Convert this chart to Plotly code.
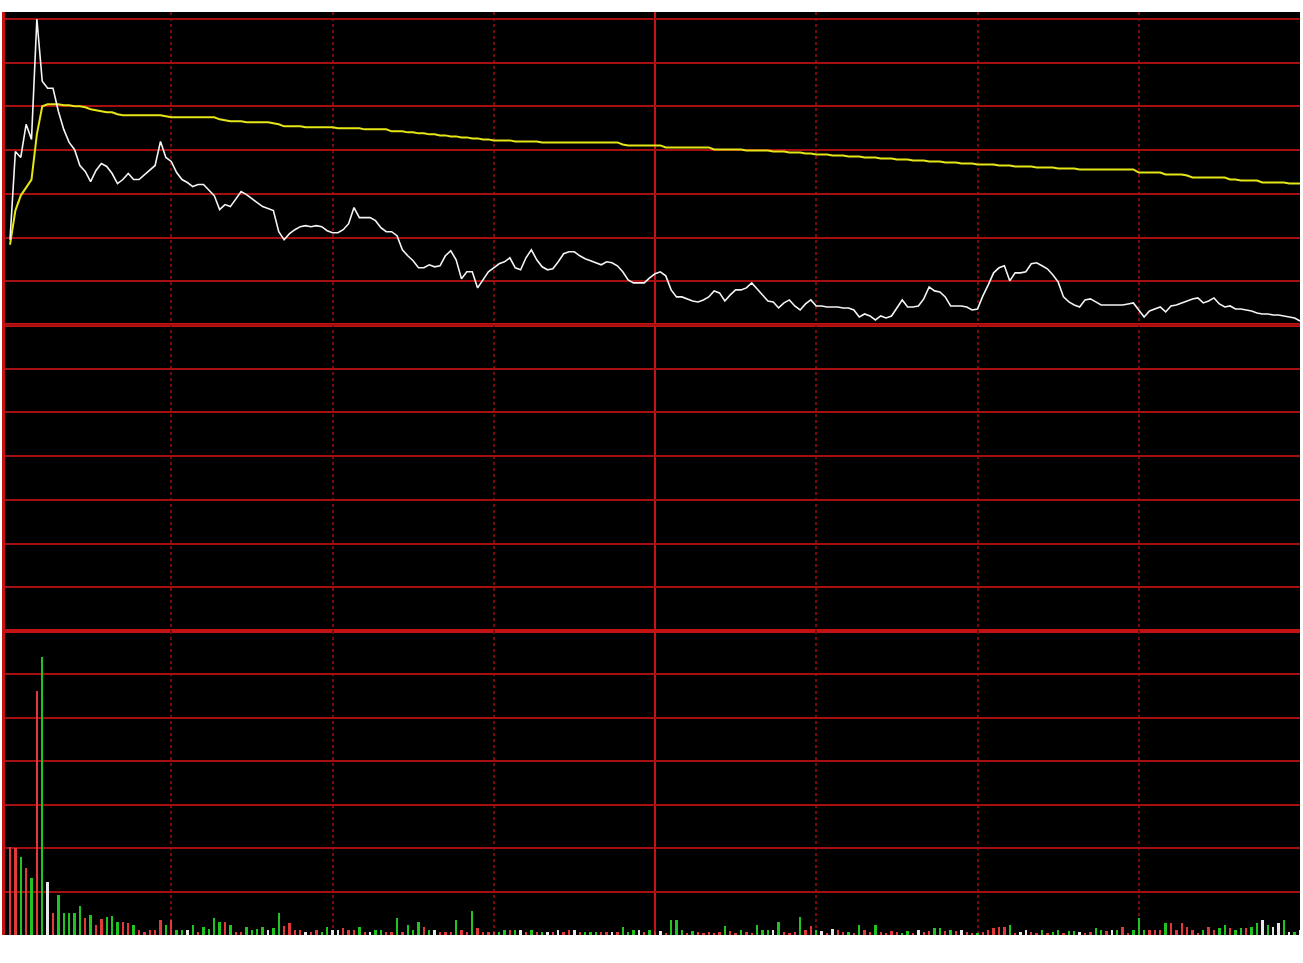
import plotly.graph_objects as go

# ---------------- data ----------------
PREV_CLOSE = 10.00
MINUTES = list(range(241))

PRICE = [
    10.170, 10.346, 10.334, 10.400, 10.370, 10.610, 10.486, 10.472, 10.472, 10.426,
    10.390, 10.364, 10.350, 10.318, 10.306, 10.286, 10.308, 10.322, 10.316, 10.302,
    10.282, 10.290, 10.302, 10.290, 10.290, 10.300, 10.308, 10.318, 10.366, 10.334,
    10.326, 10.304, 10.290, 10.284, 10.276, 10.280, 10.280, 10.270, 10.258, 10.230,
    10.240, 10.236, 10.250, 10.266, 10.260, 10.252, 10.244, 10.236, 10.232, 10.228,
    10.186, 10.170, 10.182, 10.190, 10.196, 10.198, 10.196, 10.198, 10.196, 10.188,
    10.184, 10.184, 10.190, 10.202, 10.234, 10.214, 10.214, 10.214, 10.208, 10.194,
    10.186, 10.186, 10.178, 10.150, 10.138, 10.128, 10.114, 10.114, 10.120, 10.116,
    10.118, 10.138, 10.148, 10.130, 10.092, 10.106, 10.106, 10.074, 10.090, 10.106,
    10.114, 10.122, 10.126, 10.134, 10.114, 10.110, 10.134, 10.150, 10.130, 10.116,
    10.110, 10.112, 10.126, 10.142, 10.146, 10.146, 10.138, 10.132, 10.128, 10.124,
    10.120, 10.126, 10.124, 10.118, 10.106, 10.090, 10.084, 10.084, 10.084, 10.094,
    10.102, 10.106, 10.098, 10.070, 10.056, 10.056, 10.052, 10.048, 10.046, 10.050,
    10.056, 10.068, 10.064, 10.048, 10.060, 10.070, 10.070, 10.074, 10.084, 10.072,
    10.058, 10.048, 10.046, 10.034, 10.044, 10.050, 10.038, 10.030, 10.042, 10.050,
    10.038, 10.038, 10.036, 10.036, 10.036, 10.034, 10.034, 10.030, 10.016, 10.022,
    10.018, 10.010, 10.018, 10.014, 10.018, 10.034, 10.050, 10.036, 10.036, 10.038,
    10.052, 10.076, 10.068, 10.066, 10.056, 10.038, 10.038, 10.038, 10.036, 10.030,
    10.032, 10.058, 10.080, 10.104, 10.114, 10.118, 10.088, 10.104, 10.104, 10.106,
    10.122, 10.124, 10.118, 10.112, 10.100, 10.086, 10.056, 10.046, 10.040, 10.036,
    10.050, 10.052, 10.046, 10.040, 10.040, 10.040, 10.040, 10.040, 10.042, 10.044,
    10.030, 10.016, 10.028, 10.032, 10.036, 10.026, 10.038, 10.040, 10.044, 10.048,
    10.052, 10.054, 10.044, 10.048, 10.054, 10.042, 10.036, 10.038, 10.032, 10.032,
    10.030, 10.028, 10.024, 10.022, 10.022, 10.020, 10.020, 10.018, 10.016, 10.014,
    10.008,
]

AVG_PRICE = [
    10.160, 10.228, 10.258, 10.274, 10.290, 10.380, 10.436, 10.440, 10.440, 10.440,
    10.438, 10.438, 10.436, 10.436, 10.434, 10.430, 10.428, 10.426, 10.424, 10.424,
    10.420, 10.418, 10.418, 10.418, 10.418, 10.418, 10.418, 10.418, 10.418, 10.416,
    10.414, 10.414, 10.414, 10.414, 10.414, 10.414, 10.414, 10.414, 10.414, 10.410,
    10.408, 10.406, 10.406, 10.406, 10.404, 10.404, 10.404, 10.404, 10.404, 10.402,
    10.400, 10.396, 10.396, 10.396, 10.396, 10.394, 10.394, 10.394, 10.394, 10.394,
    10.394, 10.392, 10.392, 10.392, 10.392, 10.392, 10.390, 10.390, 10.390, 10.390,
    10.390, 10.386, 10.386, 10.386, 10.384, 10.384, 10.382, 10.382, 10.380, 10.380,
    10.378, 10.378, 10.376, 10.376, 10.374, 10.374, 10.372, 10.372, 10.370, 10.370,
    10.368, 10.368, 10.368, 10.368, 10.366, 10.366, 10.366, 10.366, 10.366, 10.364,
    10.364, 10.364, 10.364, 10.364, 10.364, 10.364, 10.364, 10.364, 10.364, 10.364,
    10.364, 10.364, 10.364, 10.364, 10.360, 10.358, 10.358, 10.358, 10.358, 10.358,
    10.358, 10.358, 10.354, 10.354, 10.354, 10.354, 10.354, 10.354, 10.354, 10.354,
    10.354, 10.350, 10.350, 10.350, 10.350, 10.350, 10.350, 10.348, 10.348, 10.348,
    10.348, 10.348, 10.346, 10.346, 10.346, 10.344, 10.344, 10.344, 10.342, 10.342,
    10.340, 10.340, 10.340, 10.338, 10.338, 10.338, 10.336, 10.336, 10.336, 10.334,
    10.334, 10.334, 10.332, 10.332, 10.332, 10.330, 10.330, 10.330, 10.328, 10.328,
    10.328, 10.326, 10.326, 10.326, 10.324, 10.324, 10.324, 10.322, 10.322, 10.322,
    10.320, 10.320, 10.320, 10.320, 10.318, 10.318, 10.318, 10.316, 10.316, 10.316,
    10.316, 10.314, 10.314, 10.314, 10.314, 10.312, 10.312, 10.312, 10.312, 10.310,
    10.310, 10.310, 10.310, 10.310, 10.310, 10.310, 10.310, 10.310, 10.310, 10.310,
    10.304, 10.304, 10.304, 10.304, 10.304, 10.300, 10.300, 10.300, 10.300, 10.298,
    10.294, 10.294, 10.294, 10.294, 10.294, 10.294, 10.294, 10.290, 10.290, 10.288,
    10.288, 10.288, 10.288, 10.284, 10.284, 10.284, 10.284, 10.284, 10.282, 10.282,
    10.282,
]

# volume per minute (x100 lots)
VOLUME = [
    88, 87, 78, 67, 57, 244, 278, 53, 22, 40,
    22, 22, 22, 29, 17, 20, 10, 16, 18, 19,
    13, 13, 12, 10, 5, 3, 5, 5, 15, 10,
    15, 5, 5, 5, 10, 3, 8, 6, 17, 13,
    13, 10, 3, 3, 8, 5, 6, 8, 5, 7,
    22, 9, 12, 5, 5, 3, 3, 5, 3, 8,
    5, 5, 7, 5, 5, 8, 3, 3, 5, 5,
    3, 3, 17, 3, 10, 5, 13, 8, 5, 5,
    3, 3, 3, 15, 5, 3, 24, 7, 3, 3,
    3, 3, 5, 5, 5, 5, 3, 5, 3, 3,
    3, 3, 5, 3, 5, 5, 3, 3, 3, 3,
    3, 3, 3, 3, 8, 3, 5, 5, 3, 5,
    3, 4, 2, 15, 15, 5, 2, 4, 3, 2,
    3, 2, 3, 9, 4, 2, 5, 3, 2, 10,
    5, 5, 5, 13, 3, 2, 3, 18, 5, 9,
    5, 4, 2, 6, 5, 3, 3, 2, 10, 5,
    3, 10, 3, 2, 4, 3, 2, 4, 2, 5,
    3, 4, 7, 7, 4, 5, 4, 5, 3, 2,
    2, 3, 5, 7, 8, 8, 10, 2, 3, 5,
    3, 2, 5, 2, 3, 5, 2, 4, 4, 3,
    2, 3, 7, 5, 4, 5, 5, 8, 2, 5,
    17, 5, 5, 5, 5, 12, 12, 5, 12, 8,
    5, 2, 5, 8, 5, 7, 10, 7, 5, 7,
    7, 8, 12, 15, 10, 8, 12, 15, 3, 3,
    5,
]

# r = up (red), g = down (green), w = unchanged (white)
DIRECTION = (
    "rrgrgrgwrg" "ggggrgrrgg" "grrgrrrrrg" "rggwgrgggg" "rgrrggggwg"
    "grrrrwrrgg" "wwrrrgrwgg" "rrgrgggrgw" "rrrgrrgrrr" "rggrgwrgrg"
    "wrwrrwrggg" "rrwrgggwrg" "rwrgggrgrr" "rrrgrrgrrg" "ggwgrrrgrr"
    "gwrwrrgrgr" "rgrrrrggrw" "rrggrgrwrr" "grrrrrgrww" "rrgrggrggw"
    "rrggrwgrrg" "ggrrrgrrrr" "rrgrrggrgg" "rggwgwwgwg" "w"
)

n = len(MINUTES)
assert len(PRICE) == n and len(AVG_PRICE) == n and len(VOLUME) == n and len(DIRECTION) == n

# ---------------- styling ----------------
BAR_COLORS = {"r": "#e03a3a", "g": "#22c422", "w": "#e8e8e8"}
GRID = "#a50f0f"
GRID_DOT = "#760a0a"
THICK = "#c41212"

W, H = 1303, 963
M_L, M_R, M_T, M_B = 5, 3, 12, 28
plot_h = H - M_T - M_B               # 923
split = 304 / plot_h                 # volume panel fraction

half = max(abs(p - PREV_CLOSE) for p in PRICE)
step = half / 7.0
price_range = [PREV_CLOSE - 7 * step, PREV_CLOSE + 7.16 * step]
price_ticks = [PREV_CLOSE + k * step for k in range(-6, 8)]

vol_top = max(VOLUME) / 0.915
vol_ticks = [vol_top * k / 7 for k in range(1, 7)]

fig = go.Figure()
fig.add_trace(go.Bar(
    x=MINUTES, y=VOLUME, yaxis="y2", width=0.45,
    marker=dict(color=[BAR_COLORS[c] for c in DIRECTION], line=dict(width=0)),
    showlegend=False, hoverinfo="skip",
))
fig.add_trace(go.Scatter(
    x=MINUTES, y=AVG_PRICE, mode="lines", yaxis="y",
    line=dict(color="#e6e617", width=2), showlegend=False, hoverinfo="skip",
))
fig.add_trace(go.Scatter(
    x=MINUTES, y=PRICE, mode="lines", yaxis="y",
    line=dict(color="#f4f4f4", width=1.6), showlegend=False, hoverinfo="skip",
))

fig.update_layout(
    width=W, height=H,
    margin=dict(l=M_L, r=M_R, t=M_T, b=M_B, pad=0),
    paper_bgcolor="white", plot_bgcolor="black",
    bargap=0,
    xaxis=dict(
        range=[-0.93, 240.0], domain=[0, 1], anchor="y2",
        tickmode="array", tickvals=[30, 60, 90, 150, 180, 210],
        showgrid=True, gridcolor=GRID_DOT, gridwidth=2, griddash="dot",
        showticklabels=False, ticks="", zeroline=False, showline=False,
        fixedrange=True,
    ),
    yaxis=dict(
        domain=[split, 1], range=price_range,
        tickmode="array", tickvals=price_ticks,
        showgrid=True, gridcolor=GRID, gridwidth=2,
        showticklabels=False, ticks="", zeroline=False,
        showline=True, linecolor=THICK, linewidth=3,
        fixedrange=True,
    ),
    yaxis2=dict(
        domain=[0, split], range=[0, vol_top],
        tickmode="array", tickvals=vol_ticks,
        showgrid=True, gridcolor=GRID, gridwidth=2,
        showticklabels=False, ticks="", zeroline=False,
        showline=True, linecolor=THICK, linewidth=3,
        fixedrange=True,
    ),
    shapes=[
        dict(type="line", xref="paper", x0=0, x1=1, yref="y",
             y0=PREV_CLOSE, y1=PREV_CLOSE, line=dict(color=THICK, width=4), layer="below"),
        dict(type="line", xref="paper", x0=0, x1=1, yref="paper",
             y0=split, y1=split, line=dict(color=THICK, width=4), layer="below"),
        dict(type="line", xref="x", x0=120, x1=120, yref="paper",
             y0=0, y1=1, line=dict(color="#c41414", width=2), layer="below"),
    ],
)

fig.write_html(
    "out.html",
    config={"displayModeBar": False, "staticPlot": True},
    post_script="document.body.style.margin='0';document.body.style.overflow='hidden';",
)
